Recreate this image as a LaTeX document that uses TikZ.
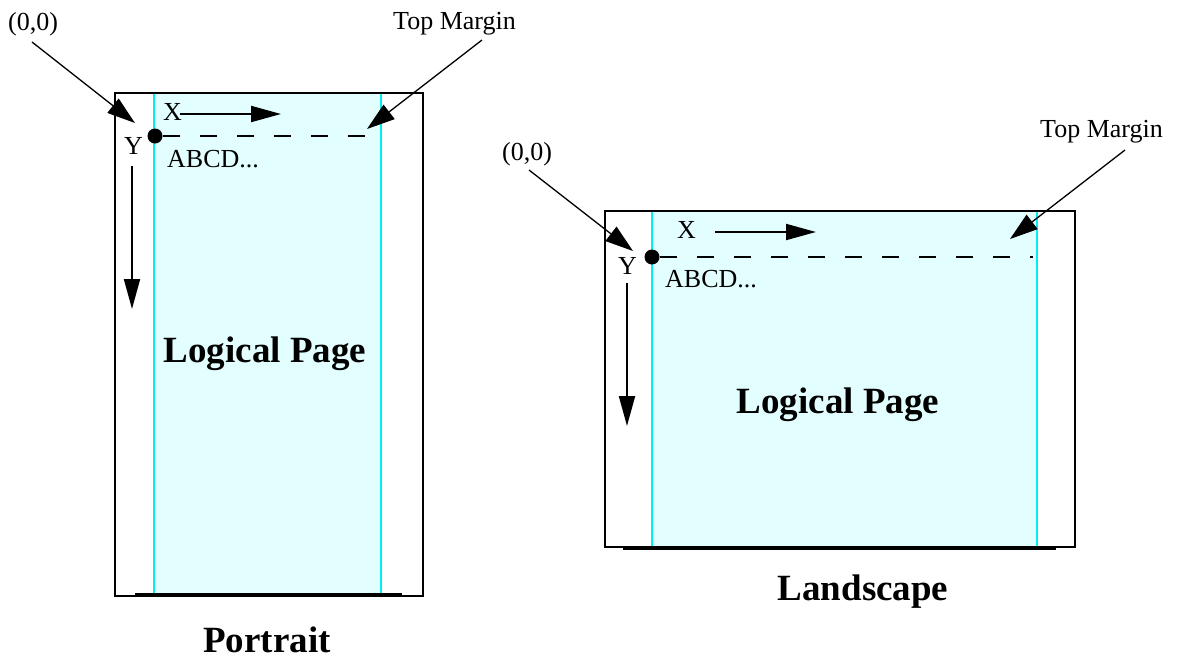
\documentclass[tikz,border=0pt]{standalone}
\usepackage{fontspec}
\setmainfont{Liberation Serif}
\usetikzlibrary{arrows.meta}
\definecolor{paleCyan}{HTML}{E2FEFE}
\definecolor{edgeCyan}{HTML}{00F0F0}
\tikzset{
  pagebox/.style={draw=black, line width=2pt},
  logicbox/.style={draw=edgeCyan, fill=paleCyan, line width=1.6pt},
  conn/.style={-{Triangle[length=28pt,width=18pt]}, line width=1.3pt},
  axisarrow/.style={-{Triangle[length=30pt,width=16pt]}, line width=2pt},
  marginline/.style={line width=2pt, dash pattern=on 17pt off 20pt, dash phase=-8pt},
  lbl/.style={font=\fontsize{26}{30}\selectfont, inner sep=0pt},
  ttl/.style={font=\bfseries\fontsize{37}{42}\selectfont, inner sep=0pt},
  origin/.style={circle, fill=black, minimum size=15pt, inner sep=0pt},
}
\begin{document}
\begin{tikzpicture}[x=1pt,y=-1pt]
\useasboundingbox (0,0) rectangle (1178,659);

% ---------------- Portrait ----------------
\coordinate (pTL) at (115,93);
\coordinate (pBR) at (423,596);
\coordinate (pcTL) at (154,93);
\coordinate (pcBR) at (381,596);
\fill[paleCyan] (pcTL) rectangle (pcBR);
\draw[draw=edgeCyan, line width=1.6pt] (pcTL) -- (154,596) (381,93) -- (pcBR);
\draw[pagebox] (pTL) rectangle (pBR);
\draw[line width=2pt] (135,594) -- (402,594);

\node[origin] (pdot) at (155,136) {};
\coordinate (pdashend) at (381,136);
\draw[marginline] (pdot.center) -- (pdashend);

\node[lbl, anchor=base west] (pX) at (163,120) {X};
\coordinate (pXs) at (180,114);
\coordinate (pXe) at (281,114);
\draw[axisarrow] (pXs) -- (pXe);

\node[lbl, anchor=base west] (pY) at (124,154) {Y};
\coordinate (pYs) at (132,166);
\coordinate (pYe) at (132,309);
\draw[axisarrow] (pYs) -- (pYe);

\node[lbl, anchor=base west] (pABC) at (167,167) {ABCD...};
\node[ttl, anchor=base] (pLP) at (265,362) {Logical Page};
\node[ttl, anchor=base] (pTitle) at (267,652) {Portrait};

\node[lbl, anchor=base west] (pO) at (8,30) {(0,0)};
\coordinate (pOs) at (32,42);
\coordinate (pOe) at (135,123);
\draw[conn] (pOs) -- (pOe);

\node[lbl, anchor=base west] (pTM) at (393,29) {Top Margin};
\coordinate (pTMs) at (482,40);
\coordinate (pTMe) at (367,129);
\draw[conn] (pTMs) -- (pTMe);

% ---------------- Landscape ----------------
\coordinate (lTL) at (605,211);
\coordinate (lBR) at (1075,547);
\coordinate (lcTL) at (652,211);
\coordinate (lcBR) at (1037,547);
\fill[paleCyan] (lcTL) rectangle (lcBR);
\draw[draw=edgeCyan, line width=1.6pt] (lcTL) -- (652,547) (1037,211) -- (lcBR);
\draw[pagebox] (lTL) rectangle (lBR);
\draw[line width=2pt] (623,549) -- (1056,549);

\node[origin] (ldot) at (652,257) {};
\coordinate (ldashend) at (1033,257);
\draw[marginline] (ldot.center) -- (ldashend);

\node[lbl, anchor=base west] (lX) at (677,238) {X};
\coordinate (lXs) at (715,232);
\coordinate (lXe) at (816,232);
\draw[axisarrow] (lXs) -- (lXe);

\node[lbl, anchor=base west] (lY) at (618,274) {Y};
\coordinate (lYs) at (627,283);
\coordinate (lYe) at (627,426);
\draw[axisarrow] (lYs) -- (lYe);

\node[lbl, anchor=base west] (lABC) at (665,287) {ABCD...};
\node[ttl, anchor=base] (lLP) at (838,413) {Logical Page};
\node[ttl, anchor=base] (lTitle) at (863,600) {Landscape};

\node[lbl, anchor=base west] (lO) at (502,160) {(0,0)};
\coordinate (lOs) at (529,170);
\coordinate (lOe) at (633,251);
\draw[conn] (lOs) -- (lOe);

\node[lbl, anchor=base west] (lTM) at (1040,137) {Top Margin};
\coordinate (lTMs) at (1125,150);
\coordinate (lTMe) at (1010,239);
\draw[conn] (lTMs) -- (lTMe);
\end{tikzpicture}
\end{document}
